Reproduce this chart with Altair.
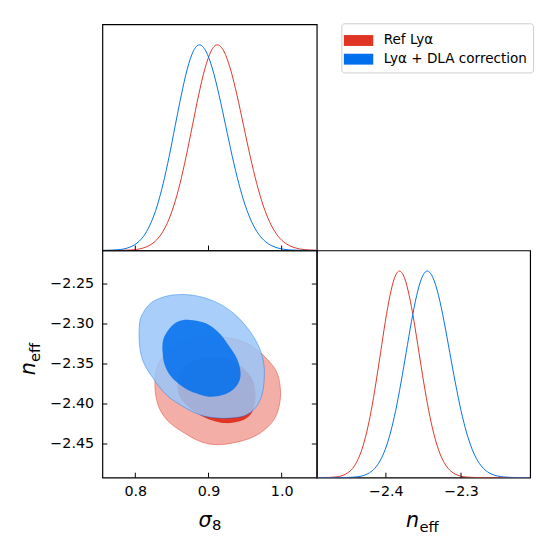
import altair as alt
import pandas as pd

FONT = "DejaVu Sans"
RED = "#E03424"
BLUE = "#006FED"
RED_PALE = "#F3AEA7"
BLUE_PALE = "#99C5F8"

series_names = ["Ref Lyα", "Lyα + DLA correction"]

# ---- axis ranges and ticks ----
S8_DOMAIN = [0.755, 1.048]
NEFF_DOMAIN = [-2.492, -2.208]
DENS_DOMAIN = [0.0, 1.1]
s8_ticks = [0.8, 0.9, 1.0]
neff_ticks_y = [-2.45, -2.40, -2.35, -2.30, -2.25]
neff_ticks_x = [-2.4, -2.3]

# ---- 1D marginal: sigma_8 ----
s8_red_x = [0.755, 0.776, 0.793, 0.810, 0.8185, 0.827, 0.8355, 0.844, 0.8525, 0.861, 0.8695, 0.878, 0.8865, 0.895, 0.9035,
            0.912, 0.921, 0.930, 0.939, 0.948, 0.957, 0.966, 0.975, 0.984, 0.993, 1.002, 1.011, 1.020, 1.038, 1.048]
s8_red_d = [0.0, 0.0003, 0.0022, 0.0111, 0.0228, 0.0439, 0.0796, 0.1353, 0.2163, 0.3247, 0.4578, 0.6065, 0.7548, 0.8825, 0.9692,
            1.0, 0.9692, 0.8825, 0.7548, 0.6065, 0.4578, 0.3247, 0.2163, 0.1353, 0.0796, 0.0439, 0.0228, 0.0111, 0.0022, 0.0008]
s8_blue_x = [0.7555, 0.772, 0.7885, 0.7968, 0.805, 0.8133, 0.8215, 0.8298, 0.838, 0.8463, 0.8545, 0.8628, 0.871, 0.8793,
             0.8875, 0.8965, 0.9055, 0.9145, 0.9235, 0.9325, 0.9415, 0.9505, 0.9595, 0.9685, 0.9775, 0.9865, 0.9955,
             1.0135, 1.0315, 1.048]
s8_blue_d = [0.0003, 0.0022, 0.0111, 0.0228, 0.0439, 0.0796, 0.1353, 0.2163, 0.3247, 0.4578, 0.6065, 0.7548, 0.8825, 0.9692,
             1.0, 0.9692, 0.8825, 0.7548, 0.6065, 0.4578, 0.3247, 0.2163, 0.1353, 0.0796, 0.0439, 0.0228, 0.0111,
             0.0022, 0.0003, 0.0]

# ---- 1D marginal: n_eff ----
neff_red_x = [-2.492, -2.482, -2.4695, -2.457, -2.4508, -2.4445, -2.4383, -2.432, -2.4258, -2.4195, -2.4133, -2.407, -2.4008,
              -2.3945, -2.3883, -2.382, -2.3755, -2.369, -2.3625, -2.356, -2.3495, -2.343, -2.3365, -2.330, -2.3235,
              -2.317, -2.3105, -2.304, -2.291, -2.278, -2.208]
neff_red_d = [0.0, 0.0003, 0.0022, 0.0111, 0.0228, 0.0439, 0.0796, 0.1353, 0.2163, 0.3247, 0.4578, 0.6065, 0.7548, 0.8825,
              0.9692, 1.0, 0.9692, 0.8825, 0.7548, 0.6065, 0.4578, 0.3247, 0.2163, 0.1353, 0.0796, 0.0439, 0.0228,
              0.0111, 0.0022, 0.0003, 0.0]
neff_blue_x = [-2.492, -2.457, -2.443, -2.429, -2.422, -2.415, -2.408, -2.401, -2.394, -2.387, -2.380, -2.373, -2.366,
               -2.359, -2.352, -2.345, -2.3375, -2.330, -2.3225, -2.315, -2.3075, -2.300, -2.2925, -2.285, -2.2775,
               -2.270, -2.2625, -2.255, -2.240, -2.225, -2.208]
neff_blue_d = [0.0, 0.0003, 0.0022, 0.0111, 0.0228, 0.0439, 0.0796, 0.1353, 0.2163, 0.3247, 0.4578, 0.6065, 0.7548, 0.8825,
               0.9692, 1.0, 0.9692, 0.8825, 0.7548, 0.6065, 0.4578, 0.3247, 0.2163, 0.1353, 0.0796, 0.0439, 0.0228,
               0.0111, 0.0022, 0.0003, 0.0]

# ---- 2D contours (sigma_8, n_eff) ----
red_outer_s8 = [0.9011, 0.9281, 0.9506, 0.9685, 0.9843, 0.9933, 0.9978, 0.9978, 0.9910, 0.9775, 0.9596, 0.9371, 0.9146,
                0.8921, 0.8697, 0.8472, 0.8337, 0.8279, 0.8270, 0.8315, 0.8427, 0.8607, 0.8809]
red_outer_neff = [-2.3153, -2.3173, -2.3235, -2.3337, -2.3480, -2.3602, -2.3765, -2.3969, -2.4173, -2.4316, -2.4418,
                  -2.4480, -2.4508, -2.4480, -2.4378, -2.4235, -2.4071, -2.3888, -2.3684, -2.3500, -2.3357, -2.3235,
                  -2.3165]
red_inner_s8 = [0.9056, 0.9281, 0.9461, 0.9596, 0.9640, 0.9631, 0.9573, 0.9438, 0.9236, 0.9056, 0.8876, 0.8719, 0.8607,
                0.8575, 0.8607, 0.8719, 0.8876]
red_inner_neff = [-2.3410, -2.3439, -2.3541, -2.3684, -2.3847, -2.4010, -2.4133, -2.4214, -2.4239, -2.4206, -2.4133,
                  -2.4031, -2.3908, -2.3765, -2.3622, -2.3500, -2.3431]
blue_outer_s8 = [0.8607, 0.8876, 0.9146, 0.9371, 0.9551, 0.9685, 0.9753, 0.9762, 0.9730, 0.9640, 0.9506, 0.9326, 0.9101,
                 0.8876, 0.8652, 0.8427, 0.8247, 0.8112, 0.8058, 0.8054, 0.8090, 0.8202, 0.8382]
blue_outer_neff = [-2.2631, -2.2655, -2.2745, -2.2888, -2.3071, -2.3276, -2.3480, -2.3684, -2.3888, -2.4051, -2.4141,
                   -2.4173, -2.4173, -2.4133, -2.4031, -2.3888, -2.3684, -2.3480, -2.3276, -2.3031, -2.2888, -2.2745,
                   -2.2663]
blue_inner_s8 = [0.8742, 0.8966, 0.9146, 0.9281, 0.9393, 0.9438, 0.9416, 0.9326, 0.9191, 0.9011, 0.8831, 0.8652, 0.8494,
                 0.8404, 0.8373, 0.8382, 0.8472, 0.8584]
blue_inner_neff = [-2.2949, -2.2990, -2.3112, -2.3276, -2.3439, -2.3602, -2.3724, -2.3827, -2.3888, -2.3908, -2.3867,
                   -2.3786, -2.3663, -2.3520, -2.3357, -2.3194, -2.3051, -2.2969]

# ---- layout sizes ----
WL, WR = 218, 217
HT, HB = 230, 231
TICK = 5

s8_scale = alt.Scale(domain=S8_DOMAIN, nice=False, zero=False)
neff_scale = alt.Scale(domain=NEFF_DOMAIN, nice=False, zero=False)
dens_scale = alt.Scale(domain=DENS_DOMAIN, nice=False, zero=False)
color_scale = alt.Scale(domain=series_names, range=[RED, BLUE])


def curve_df(xs, ds, name):
    return pd.DataFrame({"x": xs, "d": ds, "series": name})


def poly_df(xs, ys):
    return pd.DataFrame({"s8": xs, "neff": ys, "i": list(range(len(xs)))})


def text_layer(txt, x, y, size, italic=False, align="left", angle=0):
    kw = dict(font=FONT, fontSize=size, align=align, baseline="alphabetic", color="black")
    if italic:
        kw["fontStyle"] = "italic"
    if angle:
        kw["angle"] = angle
    return alt.Chart(pd.DataFrame({"t": [txt]})).mark_text(**kw).encode(
        text="t:N", x=alt.value(x), y=alt.value(y))


# ---------------- top-left: sigma_8 marginal ----------------
df_s8 = pd.concat([curve_df(s8_red_x, s8_red_d, series_names[0]),
                   curve_df(s8_blue_x, s8_blue_d, series_names[1])])
lines_s8 = alt.Chart(df_s8).mark_line(strokeWidth=1, interpolate="monotone", clip=True).encode(
    x=alt.X("x:Q", scale=s8_scale, axis=None),
    y=alt.Y("d:Q", scale=dens_scale, axis=None),
    stroke=alt.Stroke("series:N", scale=color_scale, legend=None),
)
ticks_s8_top = alt.Chart(pd.DataFrame({"v": s8_ticks})).mark_rule(color="black", strokeWidth=1).encode(
    x=alt.X("v:Q", scale=s8_scale, axis=None), y=alt.value(HT - TICK), y2=alt.value(HT))
p1 = alt.layer(lines_s8, ticks_s8_top).properties(width=WL, height=HT)

# ---------------- top-right: legend only ----------------
legend = alt.Legend(
    title=None, orient="none", legendX=25, legendY=-1,
    symbolType="M-1.35,-0.5H1.35V0.5H-1.35Z", symbolSize=490, symbolStrokeWidth=0, symbolOpacity=1,
    labelFont=FONT, labelFontSize=13.8, labelColor="black", labelLimit=400,
    strokeColor="#cccccc", fillColor="white", cornerRadius=3, padding=6,
    rowPadding=0, labelOffset=14, symbolOffset=0,
)
p2 = alt.Chart(pd.DataFrame({"series": series_names})).mark_rect().encode(
    x=alt.value(0), x2=alt.value(0), y=alt.value(0), y2=alt.value(0),
    fill=alt.Fill("series:N", scale=color_scale, legend=legend),
).properties(width=WR, height=HT, view=alt.ViewBackground(strokeOpacity=0))

# ---------------- bottom-left: 2D contours ----------------
x_axis = alt.Axis(values=s8_ticks, format=".1f", tickSize=0, domain=False, grid=False,
                  labelPadding=7, title=None)
y_axis = alt.Axis(values=neff_ticks_y, format=".2f", tickSize=0, domain=False, grid=False,
                  labelPadding=9, title=None)


def poly_layer(xs, ys, fill, fill_opacity=1.0, stroke=None, stroke_opacity=0.0):
    mk = dict(interpolate="cardinal-closed", fill=fill, fillOpacity=fill_opacity, clip=True,
              stroke=stroke if stroke else fill, strokeOpacity=stroke_opacity, strokeWidth=1)
    return alt.Chart(poly_df(xs, ys)).mark_line(**mk).encode(
        x=alt.X("s8:Q", scale=s8_scale, axis=x_axis),
        y=alt.Y("neff:Q", scale=neff_scale, axis=y_axis),
        order=alt.Order("i:Q"),
    )


red_outer = poly_layer(red_outer_s8, red_outer_neff, RED_PALE, 1.0, RED, 0.45)
red_inner = poly_layer(red_inner_s8, red_inner_neff, RED, 1.0)
blue_outer = poly_layer(blue_outer_s8, blue_outer_neff, BLUE_PALE, 0.85, BLUE, 0.4)
blue_inner = poly_layer(blue_inner_s8, blue_inner_neff, BLUE, 0.85)

ticks_x_2d = alt.Chart(pd.DataFrame({"v": s8_ticks})).mark_rule(color="black", strokeWidth=1).encode(
    x=alt.X("v:Q", scale=s8_scale, axis=x_axis), y=alt.value(HB - TICK), y2=alt.value(HB))
ticks_yl_2d = alt.Chart(pd.DataFrame({"v": neff_ticks_y})).mark_rule(color="black", strokeWidth=1).encode(
    y=alt.Y("v:Q", scale=neff_scale, axis=y_axis), x=alt.value(0), x2=alt.value(TICK))
ticks_yr_2d = alt.Chart(pd.DataFrame({"v": neff_ticks_y})).mark_rule(color="black", strokeWidth=1).encode(
    y=alt.Y("v:Q", scale=neff_scale, axis=y_axis), x=alt.value(WL - TICK), x2=alt.value(WL))

title_sigma = text_layer("σ", 111, 281, 21, italic=True, align="right")
title_sigma_sub = text_layer("8", 111.5, 284.5, 15, align="left")
title_n_y = text_layer("n", -68.5, 113.5, 21, italic=True, align="right", angle=270)
title_eff_y = text_layer("eff", -63.5, 113.5, 15, align="left", angle=270)

p3 = alt.layer(red_outer, red_inner, blue_outer, blue_inner, ticks_x_2d, ticks_yl_2d, ticks_yr_2d,
               title_sigma, title_sigma_sub, title_n_y, title_eff_y).properties(width=WL, height=HB)

# ---------------- bottom-right: n_eff marginal ----------------
df_neff = pd.concat([curve_df(neff_red_x, neff_red_d, series_names[0]),
                     curve_df(neff_blue_x, neff_blue_d, series_names[1])])
x_axis_neff = alt.Axis(values=neff_ticks_x, format=".1f", tickSize=0, domain=False, grid=False,
                       labelPadding=7, title=None)
lines_neff = alt.Chart(df_neff).mark_line(strokeWidth=1, interpolate="monotone", clip=True).encode(
    x=alt.X("x:Q", scale=neff_scale, axis=x_axis_neff),
    y=alt.Y("d:Q", scale=dens_scale, axis=None),
    stroke=alt.Stroke("series:N", scale=color_scale, legend=None),
)
ticks_neff = alt.Chart(pd.DataFrame({"v": neff_ticks_x})).mark_rule(color="black", strokeWidth=1).encode(
    x=alt.X("v:Q", scale=neff_scale, axis=x_axis_neff), y=alt.value(HB - TICK), y2=alt.value(HB))
title_n_x = text_layer("n", 104, 281.5, 21, italic=True, align="right")
title_eff_x = text_layer("eff", 104.5, 286, 15, align="left")
p4 = alt.layer(lines_neff, ticks_neff, title_n_x, title_eff_x).properties(width=WR, height=HB)

chart = alt.concat(p1, p2, p3, p4, columns=2, spacing=0, bounds="flush", align="each").resolve_scale(
    fill="independent", stroke="independent"
).resolve_legend(
    fill="independent", stroke="independent"
).properties(
    padding={"left": 9, "top": 10, "right": 5, "bottom": 5},
    background="white",
).configure_view(stroke="black", strokeWidth=1.2).configure_axis(
    labelFont=FONT, labelFontSize=14.5, labelColor="black"
)

chart.save("out.html", embed_options={"renderer": "svg", "actions": False})
